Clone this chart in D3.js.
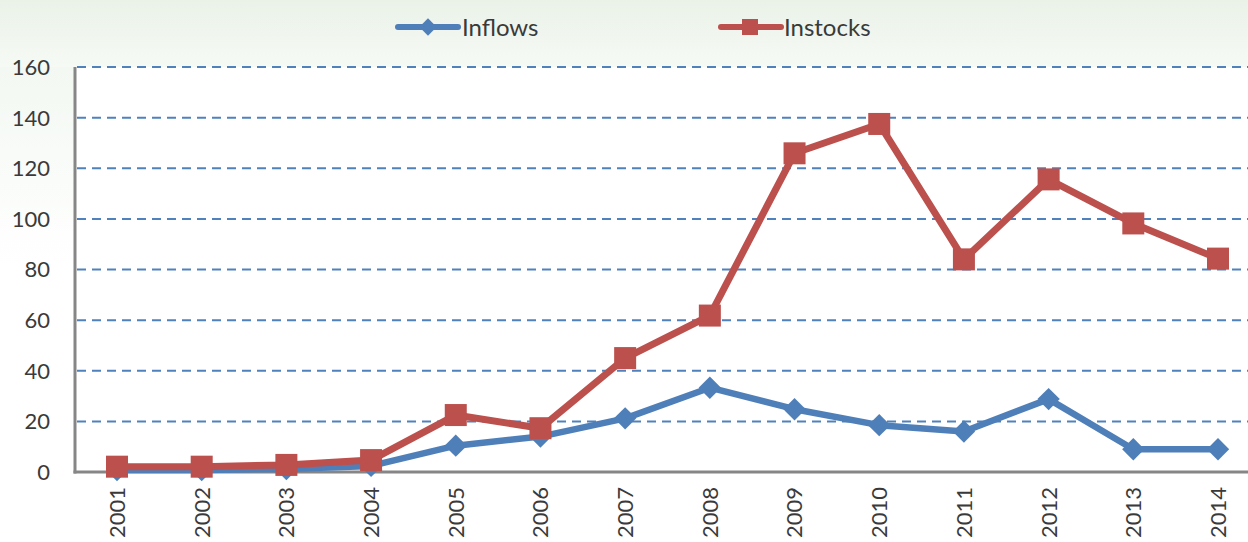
<!DOCTYPE html>
<meta charset="utf-8">
<style>
    body { margin: 0; background: #fff; }
    text { font-family: Lato, "Open Sans", sans-serif; fill: #3a3a3a; }
</style>
<body>
<script src="https://cdn.jsdelivr.net/npm/d3@7"></script>
<script>

    var years = ["2001", "2002", "2003", "2004", "2005", "2006", "2007",
                 "2008", "2009", "2010", "2011", "2012", "2013", "2014"];
    var inflows = [0.8, 0.8, 1.2, 2.4, 10.4, 14, 21.2, 33.3, 24.8, 18.5, 16, 28.8, 9, 9];
    var instocks = [2.1, 2.1, 2.8, 4.7, 22.5, 17.3, 45, 61.8, 125.9, 137.5, 84, 115.6, 98.2, 84.3];
    var yTicks = [0, 20, 40, 60, 80, 100, 120, 140, 160];

    var width = 1248, height = 542,
        margin = {top: 67, left: 75, bottom: 70};

    var svg = d3.select("body").append("svg")
        .attr("width", width)
        .attr("height", height);

    // faint green wash behind the top
    var defs = svg.append("defs");
    var grad = defs.append("linearGradient")
        .attr("id", "bg").attr("x1", 0).attr("y1", 0).attr("x2", 0).attr("y2", 1);
    grad.append("stop").attr("offset", "0%").attr("stop-color", "#eaf2e8");
    grad.append("stop").attr("offset", "100%").attr("stop-color", "#f6faf5");
    var gradL = defs.append("linearGradient")
        .attr("id", "bgl").attr("x1", 0).attr("y1", 0).attr("x2", 0).attr("y2", 1);
    gradL.append("stop").attr("offset", "0%").attr("stop-color", "#f3f8f2");
    gradL.append("stop").attr("offset", "100%").attr("stop-color", "#ffffff");

    svg.append("rect").attr("width", width).attr("height", margin.top).attr("fill", "url(#bg)");
    svg.append("rect").attr("y", margin.top).attr("width", margin.left).attr("height", 200).attr("fill", "url(#bgl)");

    var x = d3.scalePoint()
        .domain(years)
        .range([117, 1218]);

    var y = d3.scaleLinear()
        .domain([0, 160])
        .range([472, margin.top]);

    // gridlines
    svg.append("g")
        .selectAll("line")
        .data(yTicks.filter(function(d) { return d > 0; }))
        .enter().append("line")
        .attr("x1", margin.left + 2)
        .attr("x2", width)
        .attr("y1", function(d) { return y(d); })
        .attr("y2", function(d) { return y(d); })
        .attr("stroke", "#4f81bd")
        .attr("stroke-width", 2)
        .attr("stroke-dasharray", "9,6");

    // y labels
    svg.append("g")
        .selectAll("text")
        .data(yTicks)
        .enter().append("text")
        .attr("x", 50)
        .attr("y", function(d) { return y(d); })
        .attr("dy", "0.36em")
        .attr("text-anchor", "end")
        .style("font-size", "22px")
        .text(function(d) { return d; });

    // axes
    svg.append("line")
        .attr("x1", margin.left).attr("x2", margin.left)
        .attr("y1", y(160)).attr("y2", y(0) + 1.5)
        .attr("stroke", "#868686").attr("stroke-width", 3);
    svg.append("line")
        .attr("x1", margin.left - 1.5).attr("x2", width)
        .attr("y1", y(0)).attr("y2", y(0))
        .attr("stroke", "#868686").attr("stroke-width", 3);

    // x labels
    svg.append("g")
        .selectAll("text")
        .data(years)
        .enter().append("text")
        .attr("transform", function(d) { return "translate(" + x(d) + ",487) rotate(-90)"; })
        .attr("dy", "0.36em")
        .attr("text-anchor", "end")
        .style("font-size", "22px")
        .text(function(d) { return d; });

    var line = d3.line()
        .x(function(d, i) { return x(years[i]); })
        .y(function(d) { return y(d); });

    var blue = "#4f7fb8", red = "#bc504d";

    // inflows
    svg.append("path")
        .datum(inflows)
        .attr("d", line)
        .attr("fill", "none")
        .attr("stroke", blue)
        .attr("stroke-width", 6.5)
        .attr("stroke-linejoin", "round");

    svg.append("g")
        .selectAll("path")
        .data(inflows)
        .enter().append("path")
        .attr("d", d3.symbol().type(d3.symbolSquare).size(250))
        .attr("transform", function(d, i) { return "translate(" + x(years[i]) + "," + y(d) + ") rotate(45)"; })
        .attr("fill", blue);

    // instocks
    svg.append("path")
        .datum(instocks)
        .attr("d", line)
        .attr("fill", "none")
        .attr("stroke", red)
        .attr("stroke-width", 7)
        .attr("stroke-linejoin", "round");

    svg.append("g")
        .selectAll("rect")
        .data(instocks)
        .enter().append("rect")
        .attr("x", function(d, i) { return x(years[i]) - 11; })
        .attr("y", function(d) { return y(d) - 11; })
        .attr("width", 22)
        .attr("height", 22)
        .attr("fill", red);

    // legend
    var legend = svg.append("g");
    legend.append("line")
        .attr("x1", 398).attr("x2", 458).attr("y1", 27).attr("y2", 27)
        .attr("stroke", blue).attr("stroke-width", 6).attr("stroke-linecap", "round");
    legend.append("path")
        .attr("d", d3.symbol().type(d3.symbolSquare).size(150))
        .attr("transform", "translate(428,27) rotate(45)")
        .attr("fill", blue);
    legend.append("text")
        .attr("x", 462).attr("y", 27).attr("dy", "0.36em")
        .style("font-size", "24px")
        .text("Inflows");

    legend.append("line")
        .attr("x1", 721).attr("x2", 781).attr("y1", 27).attr("y2", 27)
        .attr("stroke", red).attr("stroke-width", 6).attr("stroke-linecap", "round");
    legend.append("rect")
        .attr("x", 742).attr("y", 19).attr("width", 16).attr("height", 16)
        .attr("fill", red);
    legend.append("text")
        .attr("x", 784).attr("y", 27).attr("dy", "0.36em")
        .style("font-size", "24px")
        .text("Instocks");

</script>
